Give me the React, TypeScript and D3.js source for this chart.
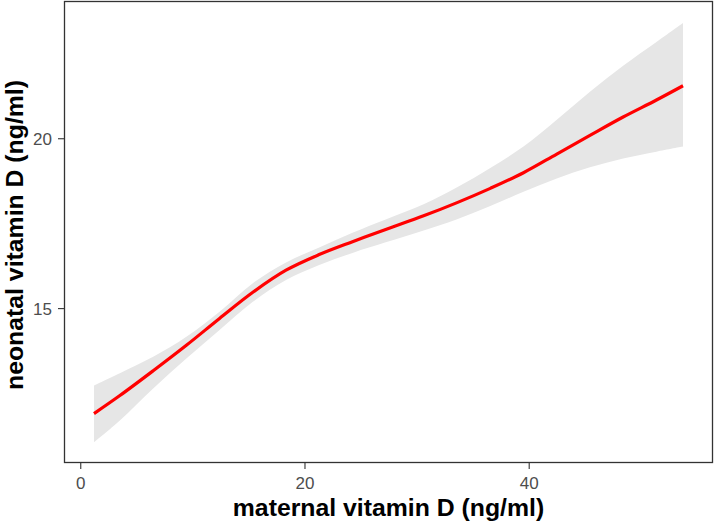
import React from "react";
import * as d3 from "d3";

// maternal vitamin D (ng/ml)
const xs = [1.18, 3.49, 6.46, 9.42, 12.38, 15.35, 18.31, 21.27, 24.24, 27.2, 30.58, 33.57, 36.53, 39.49, 42.46, 45.42, 48.38, 51.35, 53.72];
// fitted neonatal vitamin D
const fit = [11.91, 12.44, 13.17, 13.92, 14.71, 15.48, 16.13, 16.59, 16.97, 17.33, 17.73, 18.12, 18.54, 19.0, 19.55, 20.1, 20.64, 21.14, 21.56];
// 95% band
const lower = [11.07, 11.71, 12.65, 13.53, 14.37, 15.2, 15.84, 16.28, 16.64, 16.95, 17.3, 17.63, 18.02, 18.44, 18.83, 19.16, 19.42, 19.62, 19.77];
const upper = [12.74, 13.1, 13.58, 14.17, 14.91, 15.75, 16.36, 16.8, 17.23, 17.62, 18.07, 18.57, 19.14, 19.77, 20.56, 21.38, 22.15, 22.85, 23.41];

const xTicks = [0, 20, 40];
const yTicks = [15, 20];

const W = 716;
const H = 525;
const panel = { left: 64.5, right: 712.5, top: 1.5, bottom: 462.5 };

export default function App() {
  const x = d3.scaleLinear().domain([-1.45, 56.35]).range([panel.left, panel.right]);
  const y = d3.scaleLinear().domain([10.47, 24.04]).range([panel.bottom, panel.top]);

  const idx = xs.map((_, i) => i);
  const area = d3
    .area<number>()
    .x((i) => x(xs[i]))
    .y0((i) => y(lower[i]))
    .y1((i) => y(upper[i]))
    .curve(d3.curveCatmullRom.alpha(0.5));
  const line = d3
    .line<number>()
    .x((i) => x(xs[i]))
    .y((i) => y(fit[i]))
    .curve(d3.curveCatmullRom.alpha(0.5));

  const font = "'Liberation Sans', Arial, sans-serif";

  return (
    <div style={{ position: "absolute", left: 0, top: 0 }}>
      <svg width={W} height={H} style={{ display: "block" }}>
        <rect x={0} y={0} width={W} height={H} fill="#ffffff" />
        <path d={area(idx) || ""} fill="#e6e6e6" stroke="none" />
        <path d={line(idx) || ""} fill="none" stroke="#ff0000" strokeWidth={3.2} strokeLinecap="butt" />
        <rect
          x={panel.left}
          y={panel.top}
          width={panel.right - panel.left}
          height={panel.bottom - panel.top}
          fill="none"
          stroke="#333333"
          strokeWidth={1.3}
        />
        {xTicks.map((t) => (
          <g key={"x" + t}>
            <line x1={x(t)} x2={x(t)} y1={panel.bottom} y2={panel.bottom + 6.5} stroke="#333333" strokeWidth={1.1} />
            <text x={x(t)} y={488.5} textAnchor="middle" fontFamily={font} fontSize={17} fill="#4d4d4d">
              {t}
            </text>
          </g>
        ))}
        {yTicks.map((t) => (
          <g key={"y" + t}>
            <line x1={panel.left - 6.5} x2={panel.left} y1={y(t)} y2={y(t)} stroke="#333333" strokeWidth={1.1} />
            <text x={52} y={y(t)} dy="0.36em" textAnchor="end" fontFamily={font} fontSize={17} fill="#4d4d4d">
              {t}
            </text>
          </g>
        ))}
        <text
          x={(panel.left + panel.right) / 2}
          y={516}
          textAnchor="middle"
          fontFamily={font}
          fontWeight="bold"
          fontSize={24.8}
          fill="#000000"
        >
          maternal vitamin D (ng/ml)
        </text>
        <text
          transform={`translate(23, ${(panel.top + panel.bottom) / 2 + 3}) rotate(-90)`}
          textAnchor="middle"
          fontFamily={font}
          fontWeight="bold"
          fontSize={24.8}
          fill="#000000"
        >
          neonatal vitamin D (ng/ml)
        </text>
      </svg>
    </div>
  );
}
